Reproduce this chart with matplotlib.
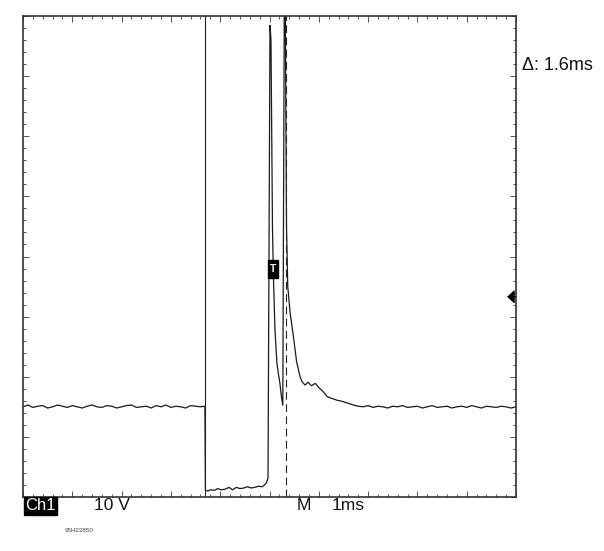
import matplotlib
matplotlib.use("Agg")
import matplotlib.pyplot as plt
from matplotlib.patches import Rectangle
from matplotlib.ticker import MultipleLocator

# ---------------- data (time in ms, 1 ms/div; voltage in V, 10 V/div, ground at bottom) ----
t_base_left = [0.00, 0.10, 0.20, 0.30, 0.40, 0.50, 0.60, 0.70, 0.80, 0.90,
               1.00, 1.10, 1.20, 1.30, 1.40, 1.50, 1.60, 1.70, 1.80, 1.90,
               2.00, 2.10, 2.20, 2.30, 2.40, 2.50, 2.60, 2.70, 2.80, 2.90,
               3.00, 3.10, 3.20, 3.30, 3.40, 3.50, 3.60, 3.69]
v_base_left = [15.0, 15.3, 14.9, 15.1, 15.2, 14.8, 15.0, 15.3, 15.1, 14.9,
               15.2, 15.0, 14.8, 15.1, 15.3, 15.0, 14.9, 15.2, 15.1, 14.8,
               15.0, 15.2, 15.3, 14.9, 15.0, 15.1, 14.8, 15.2, 15.0, 15.3,
               14.9, 15.1, 15.0, 14.8, 15.2, 15.1, 15.0, 15.1]

t_low = [3.70, 3.75, 3.80, 3.88, 3.95, 4.02, 4.10, 4.18, 4.25, 4.33,
         4.40, 4.48, 4.55, 4.63, 4.70, 4.78, 4.85, 4.90, 4.94, 4.97]
v_low = [1.1, 1.0, 1.2, 1.1, 1.4, 1.2, 1.3, 1.6, 1.2, 1.6,
         1.4, 1.5, 1.7, 1.5, 1.6, 1.8, 1.7, 2.0, 2.4, 3.2]

t_spike1 = [5.01, 5.03, 5.06, 5.08, 5.11, 5.15, 5.18, 5.21, 5.24, 5.27]
v_spike1 = [78.5, 76.0, 45.0, 36.5, 28.0, 22.3, 20.5, 19.0, 16.8, 15.2]

t_spike2 = [5.30, 5.32, 5.345, 5.37, 5.42, 5.48, 5.55, 5.62, 5.66, 5.72,
            5.78, 5.85, 5.93, 6.00, 6.08, 6.17, 6.26, 6.37, 6.48, 6.59]
v_spike2 = [82.0, 82.0, 45.0, 35.0, 30.5, 27.0, 22.5, 20.0, 19.2, 18.6,
            19.1, 18.5, 18.9, 18.2, 17.6, 16.7, 16.4, 16.1, 15.9, 15.6]

t_base_right = [6.70, 6.80, 6.90, 7.00, 7.10, 7.20, 7.30, 7.40, 7.50, 7.60,
                7.70, 7.80, 7.90, 8.00, 8.10, 8.20, 8.30, 8.40, 8.50, 8.60,
                8.70, 8.80, 8.90, 9.00, 9.10, 9.20, 9.30, 9.40, 9.50, 9.60,
                9.70, 9.80, 9.90, 10.00]
v_base_right = [15.3, 15.1, 15.0, 15.2, 14.9, 15.1, 15.0, 14.8, 15.1, 15.0,
                15.2, 14.9, 15.0, 15.1, 14.8, 15.0, 15.2, 14.9, 15.0, 15.1,
                14.8, 15.0, 15.1, 14.9, 15.2, 15.0, 14.8, 15.1, 15.0, 14.9,
                15.1, 15.0, 14.8, 15.0]

cursor_times = [3.70, 5.33]
trigger_time = 5.07
trigger_level = 33.3
delta_label = "\u0394: 1.6ms"
channel_label = "Ch1"
volts_label = "10 V"
mode_label = "M"
time_label = "1ms"
code_label = "95H23850"

# ---------------- figure ----------------
W, H = 604, 551
fig = plt.figure(figsize=(W / 100, H / 100), dpi=100)
fig.patch.set_facecolor("white")

L, R, T, B = 23, 516, 16, 497
ax = fig.add_axes([L / W, 1 - B / H, (R - L) / W, (B - T) / H])
ax.set_xlim(0, 10)
ax.set_ylim(0, 80)

FONT = ["Liberation Sans", "DejaVu Sans"]

t_all = t_base_left + t_low + t_spike1 + t_spike2 + t_base_right
v_all = v_base_left + v_low + v_spike1 + v_spike2 + v_base_right
ax.plot(t_all, v_all, color="#1a1a1a", lw=0.9, solid_joinstyle="miter")

# cursors
ax.axvline(cursor_times[0], color="#222222", lw=0.8)
ax.axvline(cursor_times[1], color="#222222", lw=0.8, linestyle=(0, (7, 4)))

# trigger-position marker "T"
ax.add_patch(Rectangle((trigger_time - 0.1, 36.4), 0.2, 3.1, facecolor="black",
                       edgecolor="black", zorder=5))
ax.text(trigger_time, 37.95, "T", color="white", fontsize=7.5, ha="center",
        va="center", zorder=6, family=FONT, fontweight="bold")

# trigger-level arrow at right edge
ax.annotate("", xy=(9.82, trigger_level), xytext=(10.0, trigger_level),
            arrowprops=dict(arrowstyle="-|>,head_length=0.45,head_width=0.42",
                            color="black", lw=0.8, shrinkA=0, shrinkB=0),
            annotation_clip=False)

# graticule edge ticks
ax.xaxis.set_major_locator(MultipleLocator(1))
ax.xaxis.set_minor_locator(MultipleLocator(0.2))
ax.yaxis.set_major_locator(MultipleLocator(10))
ax.yaxis.set_minor_locator(MultipleLocator(2))
ax.tick_params(which="both", direction="in", top=True, right=True,
               labelbottom=False, labelleft=False, color="#555555")
ax.tick_params(which="major", length=4, width=0.7)
ax.tick_params(which="minor", length=2.3, width=0.7)
for s in ax.spines.values():
    s.set_color("#333333")
    s.set_linewidth(1.2)

# texts
fig.text(522 / W, 1 - 65 / H, delta_label, fontsize=13, ha="left", va="center",
         family=FONT, color="#111111")
fig.text(25 / W, 1 - 506 / H, channel_label, fontsize=12, ha="left", va="center",
         family=FONT, color="white",
         bbox=dict(facecolor="black", edgecolor="black", pad=1.0))
fig.text(94 / W, 1 - 506 / H, volts_label, fontsize=12.5, ha="left", va="center",
         family=FONT, color="#111111")
fig.text(297 / W, 1 - 506 / H, mode_label, fontsize=12.5, ha="left", va="center",
         family=FONT, color="#111111")
fig.text(332 / W, 1 - 506 / H, time_label, fontsize=12.5, ha="left", va="center",
         family=FONT, color="#111111")
fig.text(65 / W, 1 - 531 / H, code_label, fontsize=4.5, ha="left", va="center",
         family=FONT, color="#444444")

fig.savefig("out.png", dpi=100, facecolor="white")
